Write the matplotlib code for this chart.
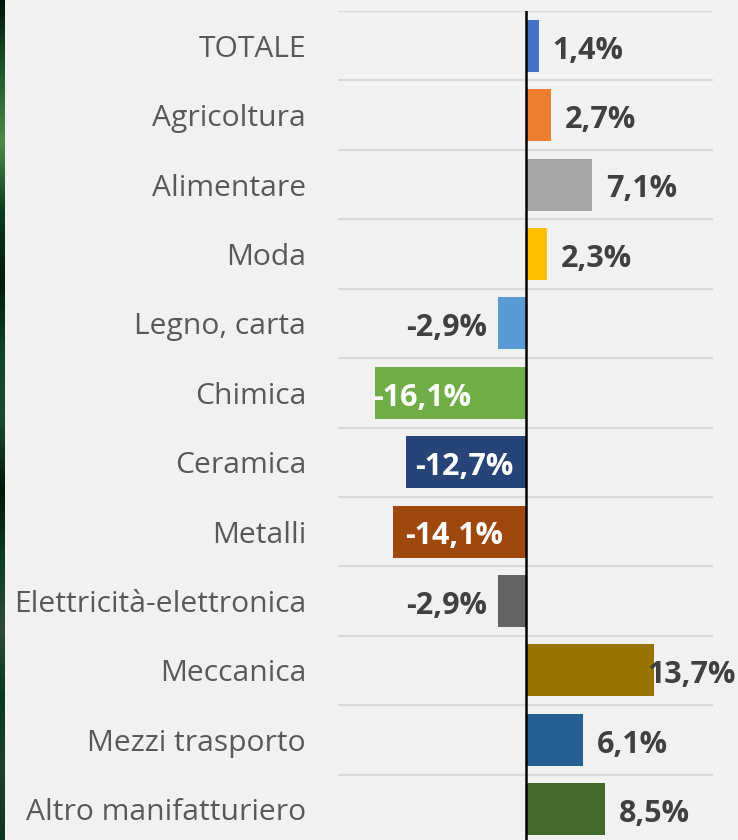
import matplotlib
matplotlib.use("Agg")
import matplotlib.pyplot as plt
import numpy as np
from matplotlib.colors import LinearSegmentedColormap

categories = ["TOTALE", "Agricoltura", "Alimentare", "Moda", "Legno, carta",
              "Chimica", "Ceramica", "Metalli", "Elettricità-elettronica",
              "Meccanica", "Mezzi trasporto", "Altro manifatturiero"]
values = [1.4, 2.7, 7.1, 2.3, -2.9, -16.1, -12.7, -14.1, -2.9, 13.7, 6.1, 8.5]
value_labels = ["1,4%", "2,7%", "7,1%", "2,3%", "-2,9%", "-16,1%", "-12,7%",
                "-14,1%", "-2,9%", "13,7%", "6,1%", "8,5%"]
colors = ["#4472C4", "#ED7D31", "#A5A5A5", "#FFC000", "#5B9BD5", "#70AD47",
          "#264478", "#9E480E", "#636363", "#997300", "#255E91", "#43682B"]

BG = "#f1f1f1"
FONT = "Open Sans"
W, H = 738, 840
fig = plt.figure(figsize=(W / 100, H / 100), dpi=100, facecolor=BG)

# decorative dark-green strip on the left edge
strip = fig.add_axes([0, 0, 5 / W, 1])
cmap = LinearSegmentedColormap.from_list(
    "g", ["#02140a", "#1e5a2c", "#4d8a4a", "#0b3a1e", "#021a0c", "#0f4426",
          "#1b4a30", "#02160b", "#0c3d22", "#2f4a3a", "#07381c", "#20402c", "#0e3520"])
strip.imshow(np.linspace(0, 1, 200).reshape(-1, 1), aspect="auto", cmap=cmap)
strip.set_axis_off()

left, right = 338 / W, 713 / W
top, bottom = 1 - 11 / H, 1 - 844 / H
ax = fig.add_axes([left, bottom, right - left, top - bottom])
ax.set_facecolor(BG)

y = np.arange(len(categories))
ax.barh(y, values, height=0.75, color=colors, zorder=2)
ax.set_xlim(-20, 20)
ax.set_ylim(len(categories) - 0.5, -0.5)

# gridlines at category boundaries
ax.set_yticks(np.arange(-0.5, len(categories), 1), minor=True)
ax.grid(which="minor", axis="y", color="#d9d9d9", linewidth=1.5, zorder=0)
ax.tick_params(which="minor", length=0)
ax.axvline(0, color="black", linewidth=1.8, zorder=3)

ax.set_yticks(y)
ax.set_yticklabels(categories, family=FONT, fontsize=21.6, color="#595959")
ax.tick_params(axis="y", which="major", length=0, pad=23)
ax.set_xticks([])
for s in ax.spines.values():
    s.set_visible(False)

dy = 0.07
inside_offsets = {5: -0.1, 6: 0.9, 7: 1.3}
for i, (v, lab) in enumerate(zip(values, value_labels)):
    kw = dict(va="center", family=FONT, fontsize=22, fontweight="bold", zorder=4)
    if v >= 0:
        ax.text(min(v + 1.5, 13.0), i + dy, lab, ha="left", color="#404040", **kw)
    elif i in inside_offsets:
        ax.text(v + inside_offsets[i], i + dy, lab, ha="left", color="white", **kw)
    else:
        ax.text(v - 1.2, i + dy, lab, ha="right", color="#404040", **kw)

fig.savefig("out.png", dpi=100, facecolor=BG)
